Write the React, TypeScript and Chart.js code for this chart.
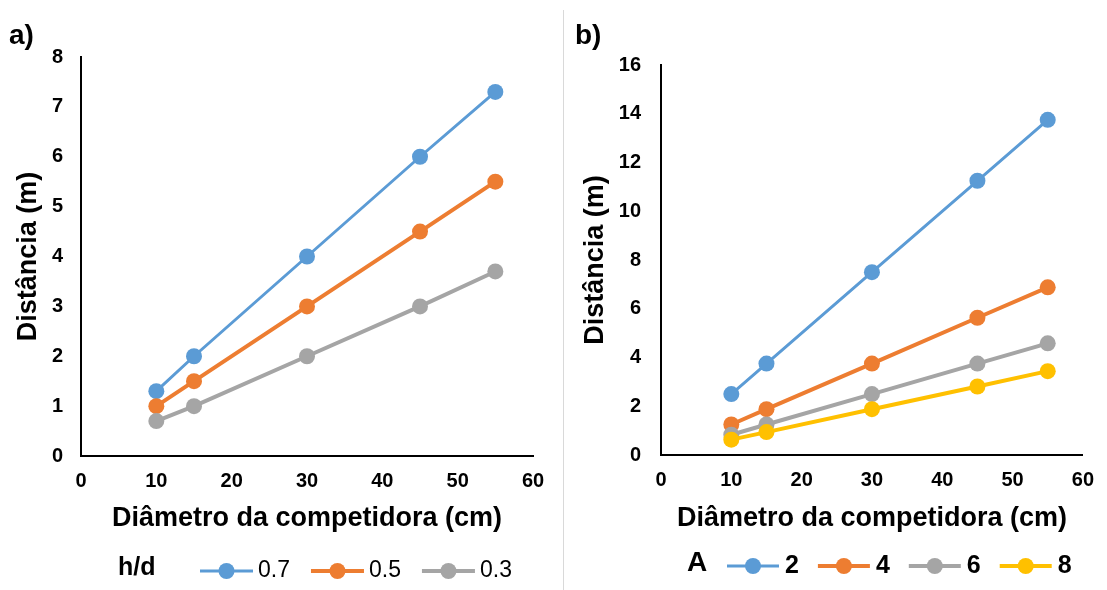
import { useEffect, useRef } from "react";
import { Chart, registerables } from "chart.js";

Chart.register(...registerables);

const FONT = "'Liberation Sans', Arial, sans-serif";

// Competitor diameters (cm), shared by both panels
const diameters = [10, 15, 30, 45, 55];

// Panel a) distance for each h/d ratio
const ratioNames = ["0.7", "0.5", "0.3"];
const ratio07 = [1.3, 2, 4, 6, 7.3];
const ratio05 = [1, 1.5, 3, 4.5, 5.5];
const ratio03 = [0.7, 1, 2, 3, 3.7];

// Panel b) distance for each A value
const aNames = ["2", "4", "6", "8"];
const a2 = [2.5, 3.75, 7.5, 11.25, 13.75];
const a4 = [1.25, 1.88, 3.75, 5.63, 6.88];
const a6 = [0.83, 1.25, 2.5, 3.75, 4.58];
const a8 = [0.63, 0.94, 1.88, 2.81, 3.44];

const BLUE = "#5B9BD5";
const ORANGE = "#ED7D31";
const GRAY = "#A5A5A5";
const YELLOW = "#FFC000";

const MARKER_RADIUS = 8;

type Series = { label: string; values: number[]; color: string; width: number };

type PanelCfg = {
  left: number;
  width: number;
  letter: string;
  letterX: number;
  heading: string;
  headingX: number;
  headingFont: string;
  itemsX: number;
  itemFont: string;
  legendY: number;
  lineLen: number;
  textGap: number;
  itemGap: number;
  top: number;
  padRight: number;
  yWidth: number;
  xHeight: number;
  yMax: number;
  yStep: number;
  yTitlePad: number;
  yTickPad: number;
  series: Series[];
};

function legendPlugin(cfg: PanelCfg) {
  return {
    id: "inlineLegend",
    afterDraw(chart: any) {
      const ctx: CanvasRenderingContext2D = chart.ctx;
      ctx.save();
      ctx.fillStyle = "#000";
      ctx.textAlign = "left";
      ctx.textBaseline = "alphabetic";
      ctx.font = `bold 28px ${FONT}`;
      ctx.fillText(cfg.letter, cfg.letterX, 44);

      ctx.textBaseline = "middle";
      ctx.font = cfg.headingFont;
      ctx.fillText(cfg.heading, cfg.headingX, cfg.legendY - 3);

      let x = cfg.itemsX;
      chart.data.datasets.forEach((ds: any) => {
        ctx.strokeStyle = ds.borderColor;
        ctx.lineWidth = ds.borderWidth;
        ctx.beginPath();
        ctx.moveTo(x, cfg.legendY);
        ctx.lineTo(x + cfg.lineLen, cfg.legendY);
        ctx.stroke();
        ctx.fillStyle = ds.borderColor;
        ctx.beginPath();
        ctx.arc(x + cfg.lineLen / 2, cfg.legendY, MARKER_RADIUS, 0, Math.PI * 2);
        ctx.fill();
        x += cfg.lineLen + cfg.textGap;
        ctx.fillStyle = "#000";
        ctx.font = cfg.itemFont;
        ctx.fillText(ds.label, x, cfg.legendY);
        x += ctx.measureText(ds.label).width + cfg.itemGap;
      });
      ctx.restore();
    },
  };
}

function Panel({ cfg }: { cfg: PanelCfg }) {
  const ref = useRef<HTMLCanvasElement | null>(null);

  useEffect(() => {
    if (!ref.current) return;
    const n = cfg.series.length;
    const tickFont = { family: FONT, size: 20, weight: "bold" as const };
    const titleFont = { family: FONT, size: 27, weight: "bold" as const };
    const chart = new Chart(ref.current, {
      type: "line",
      data: {
        datasets: cfg.series.map((s, i) => ({
          label: s.label,
          data: diameters.map((d, j) => ({ x: d, y: s.values[j] })),
          borderColor: s.color,
          backgroundColor: s.color,
          borderWidth: s.width,
          pointRadius: MARKER_RADIUS,
          pointBorderWidth: 0,
          pointBackgroundColor: s.color,
          tension: 0,
          order: n - i,
        })),
      },
      options: {
        responsive: false,
        animation: false,
        layout: { padding: { left: 0, top: cfg.top, right: cfg.padRight, bottom: 0 } },
        plugins: { legend: { display: false }, tooltip: { enabled: false } },
        scales: {
          x: {
            type: "linear",
            min: 0,
            max: 60,
            ticks: { stepSize: 10, font: tickFont, color: "#000", padding: 13, maxRotation: 0 },
            grid: { display: false, drawTicks: false },
            border: { display: true, color: "#000", width: 2 },
            title: {
              display: true,
              text: "Diâmetro da competidora (cm)",
              font: titleFont,
              color: "#000",
              padding: { top: 0, bottom: 55 },
            },
            afterFit: (s: any) => {
              s.height = cfg.xHeight;
            },
          },
          y: {
            type: "linear",
            min: 0,
            max: cfg.yMax,
            ticks: { stepSize: cfg.yStep, font: tickFont, color: "#000", padding: cfg.yTickPad },
            grid: { display: false, drawTicks: false },
            border: { display: true, color: "#000", width: 2 },
            title: {
              display: true,
              text: "Distância (m)",
              font: titleFont,
              color: "#000",
              padding: { top: cfg.yTitlePad, bottom: 0 },
            },
            afterFit: (s: any) => {
              s.width = cfg.yWidth;
            },
          },
        },
      },
      plugins: [legendPlugin(cfg)],
    });
    return () => chart.destroy();
  }, [cfg]);

  return (
    <canvas
      ref={ref}
      width={cfg.width}
      height={590}
      style={{ position: "absolute", left: cfg.left, top: 0, display: "block" }}
    />
  );
}

const panelA: PanelCfg = {
  left: 0,
  width: 563,
  letter: "a)",
  letterX: 9,
  heading: "h/d",
  headingX: 118,
  headingFont: `bold 25px ${FONT}`,
  itemsX: 200,
  itemFont: `23px ${FONT}`,
  legendY: 571,
  lineLen: 53,
  textGap: 5,
  itemGap: 21,
  top: 57,
  padRight: 30,
  yWidth: 81,
  xHeight: 134,
  yMax: 8,
  yStep: 1,
  yTitlePad: 12,
  yTickPad: 18,
  series: [
    { label: ratioNames[0], values: ratio07, color: BLUE, width: 3 },
    { label: ratioNames[1], values: ratio05, color: ORANGE, width: 4 },
    { label: ratioNames[2], values: ratio03, color: GRAY, width: 4 },
  ],
};

const panelB: PanelCfg = {
  left: 564,
  width: 543,
  letter: "b)",
  letterX: 11,
  heading: "A",
  headingX: 123,
  headingFont: `bold 28px ${FONT}`,
  itemsX: 163,
  itemFont: `bold 25px ${FONT}`,
  legendY: 566,
  lineLen: 52,
  textGap: 6,
  itemGap: 19,
  top: 65,
  padRight: 15,
  yWidth: 97,
  xHeight: 135,
  yMax: 16,
  yStep: 2,
  yTitlePad: 15,
  yTickPad: 20,
  series: [
    { label: aNames[0], values: a2, color: BLUE, width: 3 },
    { label: aNames[1], values: a4, color: ORANGE, width: 4 },
    { label: aNames[2], values: a6, color: GRAY, width: 4 },
    { label: aNames[3], values: a8, color: YELLOW, width: 4 },
  ],
};

export default function App() {
  return (
    <div
      style={{
        position: "absolute",
        left: 0,
        top: 0,
        width: 1107,
        height: 590,
        background: "#fff",
        overflow: "hidden",
      }}
    >
      <Panel cfg={panelA} />
      <div
        style={{
          position: "absolute",
          left: 563,
          top: 10,
          width: 1,
          height: 580,
          background: "#d9d9d9",
        }}
      />
      <Panel cfg={panelB} />
    </div>
  );
}
